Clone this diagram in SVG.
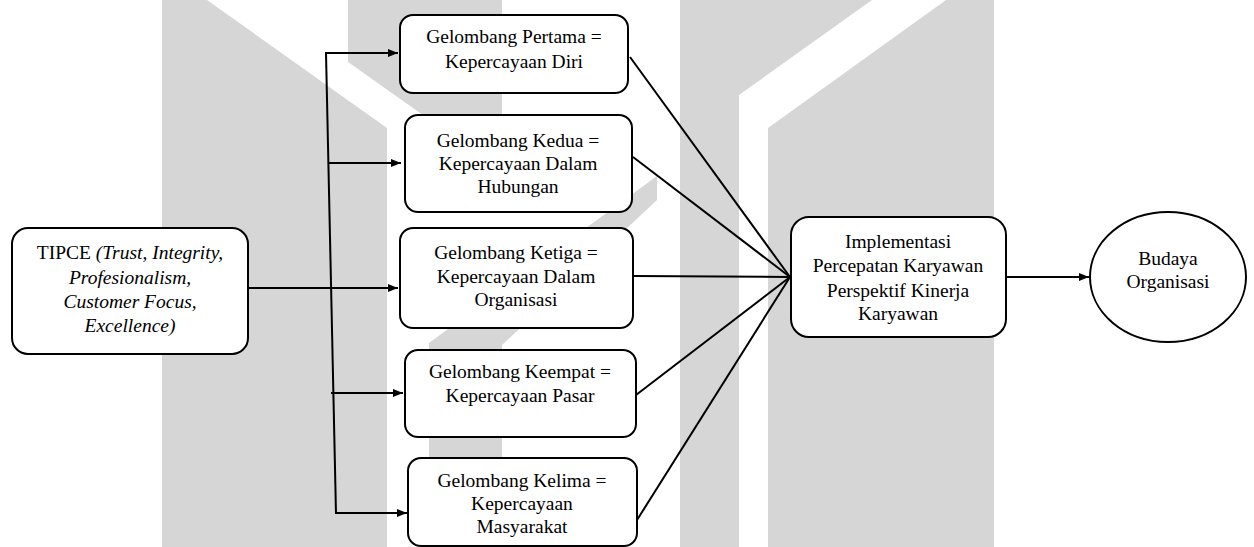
<svg xmlns="http://www.w3.org/2000/svg" width="1254" height="547" viewBox="0 0 1254 547">
<defs>
<style>
.wm{fill:#d6d6d6;stroke:none}
.box{fill:#fff;stroke:#000;stroke-width:2}
.t{font-family:"Liberation Serif","Times New Roman",serif;font-size:19.5px;fill:#000;text-anchor:middle}
.i{font-style:italic}
.ln{stroke:#000;stroke-width:2;fill:none}
</style>
<marker id="ah" viewBox="0 0 10 10" refX="10" refY="5" markerWidth="10" markerHeight="10" markerUnits="userSpaceOnUse" orient="auto">
<path d="M0,1 L10,5 L0,9 Z" fill="#000"/>
</marker>
</defs>
<rect width="1254" height="547" fill="#fff"/>
<g id="watermark">
<path class="wm" d="M162,0 L207,0 L387,128 L387,547 L162,547 Z"/>
<path class="wm" d="M348,0 L502,0 L502,171 L348,62 Z"/>
<path class="wm" d="M657,176 L657,200 L502,345 L502,547 L429,547 L429,343 Z"/>
<path class="wm" d="M680,0 L872,0 L739,95 L739,547 L680,547 Z"/>
<path class="wm" d="M946,0 L994,0 L994,547 L768,547 L768,128 Z"/>
</g>
<g id="connectors">
<line class="ln" x1="326" y1="53" x2="336" y2="514" stroke-width="3"/>
<line class="ln" x1="248" y1="288" x2="331" y2="288" stroke-width="4"/>
<line class="ln" x1="331" y1="288" x2="398" y2="288" marker-end="url(#ah)"/>
<line class="ln" x1="325" y1="53" x2="398" y2="53" marker-end="url(#ah)"/>
<line class="ln" x1="329" y1="163" x2="401" y2="163" marker-end="url(#ah)"/>
<line class="ln" x1="331" y1="393" x2="403" y2="393" marker-end="url(#ah)"/>
<line class="ln" x1="335" y1="513" x2="407" y2="513" marker-end="url(#ah)"/>
<line class="ln" x1="630" y1="57" x2="790" y2="277"/>
<line class="ln" x1="633" y1="157" x2="790" y2="277"/>
<line class="ln" x1="634" y1="276" x2="790" y2="277"/>
<line class="ln" x1="636" y1="395" x2="790" y2="277"/>
<line class="ln" x1="637" y1="520" x2="790" y2="277"/>
<line class="ln" x1="1006" y1="277" x2="1089" y2="277" stroke-width="2.5" marker-end="url(#ah)"/>
</g>
<g id="tipce">
<rect class="box" x="12" y="228" width="236" height="126" rx="16"/>
<text class="t" x="130" y="259">TIPCE <tspan class="i">(Trust, Integrity,</tspan></text>
<text class="t i" x="130" y="283.5">Profesionalism,</text>
<text class="t i" x="130" y="308">Customer Focus,</text>
<text class="t i" x="130" y="332">Excellence)</text>
</g>
<g id="g1">
<rect class="box" x="400" y="15" width="228" height="78" rx="13"/>
<text class="t" x="514" y="43">Gelombang Pertama =</text>
<text class="t" x="514" y="68">Kepercayaan Diri</text>
</g>
<g id="g2">
<rect class="box" x="405" y="115" width="227" height="97" rx="13"/>
<text class="t" x="518" y="147">Gelombang Kedua =</text>
<text class="t" x="518" y="170">Kepercayaan Dalam</text>
<text class="t" x="518" y="193">Hubungan</text>
</g>
<g id="g3">
<rect class="box" x="400" y="228" width="233" height="100" rx="13"/>
<text class="t" x="516" y="259">Gelombang Ketiga =</text>
<text class="t" x="516" y="283">Kepercayaan Dalam</text>
<text class="t" x="516" y="306">Organisasi</text>
</g>
<g id="g4">
<rect class="box" x="405" y="350" width="231" height="87" rx="13"/>
<text class="t" x="520" y="378">Gelombang Keempat =</text>
<text class="t" x="520" y="402">Kepercayaan Pasar</text>
</g>
<g id="g5">
<rect class="box" x="408" y="458" width="229" height="88" rx="13"/>
<text class="t" x="522" y="487">Gelombang Kelima =</text>
<text class="t" x="522" y="510">Kepercayaan</text>
<text class="t" x="522" y="533">Masyarakat</text>
</g>
<g id="impl">
<rect class="box" x="791" y="217" width="215" height="120" rx="18"/>
<text class="t" x="898" y="248">Implementasi</text>
<text class="t" x="898" y="272">Percepatan Karyawan</text>
<text class="t" x="898" y="297">Perspektif Kinerja</text>
<text class="t" x="898" y="320">Karyawan</text>
</g>
<g id="budaya">
<ellipse class="box" cx="1168" cy="277" rx="78" ry="65"/>
<text class="t" x="1168" y="265">Budaya</text>
<text class="t" x="1168" y="288">Organisasi</text>
</g>
</svg>
